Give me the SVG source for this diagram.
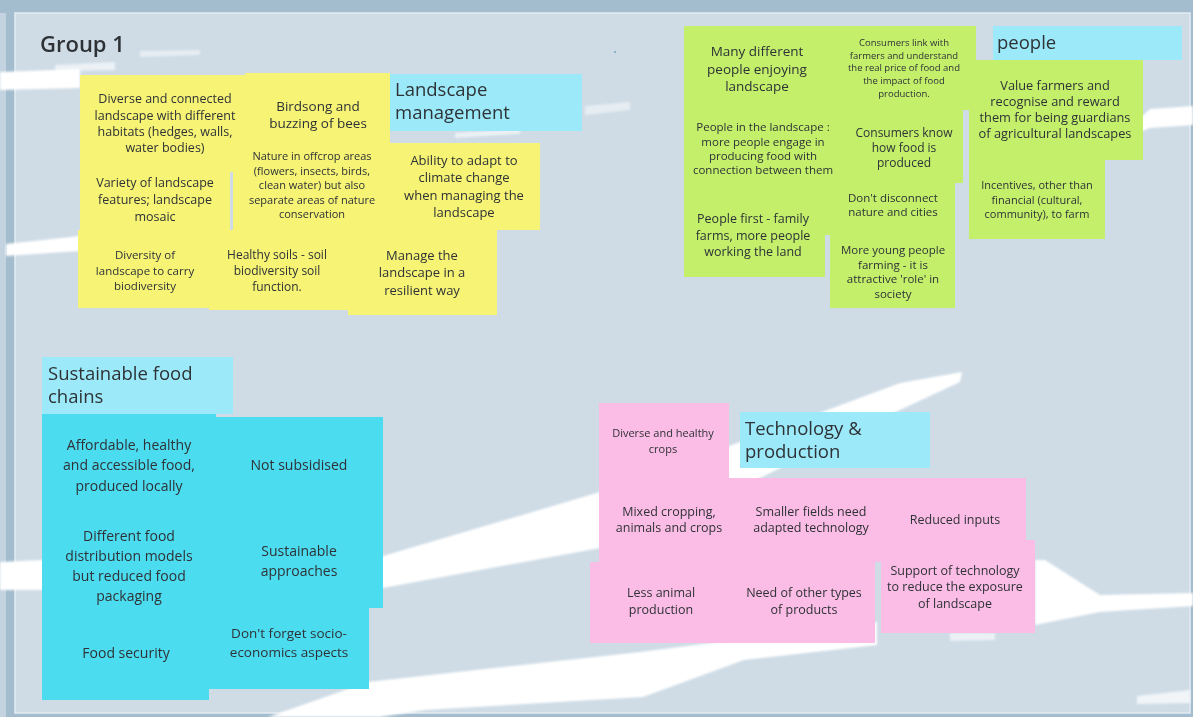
<svg xmlns="http://www.w3.org/2000/svg" width="1193" height="717" viewBox="0 0 1193 717">
<style>
.y{fill:#f6f375}.g{fill:#c3ef6b}.lab{fill:#9ceaf9}.b{fill:#4cdcf0}.p{fill:#fbbde6}
text{font-family:"Open Sans","Liberation Sans",sans-serif;fill:#2e3236}
.t{text-anchor:middle}
.l{font-size:18.5px}
.s{fill:#ffffff}
</style>
<defs>
<filter id="soft" x="-5%" y="-20%" width="110%" height="140%"><feGaussianBlur stdDeviation="1.2"/></filter>
</defs>
<rect x="0" y="0" width="1193" height="717" fill="#a4bdce"/>
<rect x="0" y="13" width="6" height="704" fill="#c3d4e0"/>
<rect x="15" y="13" width="1175" height="700" fill="#cfdce6" stroke="#e4ecf2" stroke-width="1.5"/>
<circle cx="615" cy="52" r="1" fill="#6fa8b8"/>
<g id="streaks" filter="url(#soft)">
<polygon class="s" points="0,72 80,69 80,88 0,90"/>
<polygon class="s" opacity="0.6" points="55,65 115,62 115,70 55,71"/>
<polygon class="s" opacity="0.5" points="140,51 200,50 200,55 140,57"/>
<polygon class="s" points="6,244 80,236 80,251 6,256"/>
<polygon class="s" points="1140,118 1150,109 1193,106 1193,125 1150,128 1140,132"/>
<polygon class="s" opacity="0.6" points="455,133 520,129 520,134 455,138"/>
<polygon class="s" opacity="0.5" points="585,106 630,102 630,110 585,115"/>
<polygon class="s" points="0,562 42,560 383,556 600,492 760,435 900,383 962,372 960,382 900,410 760,478 600,548 383,588 42,590 0,590"/>
<polygon class="s" points="268,717 368,682 640,652 877,622 877,645 744,660 643,697 425,710 380,717"/>
<polygon class="s" points="1035,560 1045,560 1100,595 1193,593 1193,606 1100,612 1035,625"/>
<polygon class="s" opacity="0.7" points="1137,696 1190,690 1190,703 1137,704"/>
<polygon class="s" opacity="0.6" points="950,633 995,633 995,640 950,641"/>
</g>
<text x="40" y="52" font-size="22" font-weight="600" fill="#3b3f45">Group 1</text>

<g id="y1"><rect class="y" x="80" y="75" width="165" height="97"/><text class="t" x="165" font-size="12.5"><tspan x="165" y="103">Diverse and connected</tspan><tspan x="165" y="120">landscape with different</tspan><tspan x="165" y="136">habitats (hedges, walls,</tspan><tspan x="165" y="152">water bodies)</tspan></text></g>
<g id="y2"><rect class="y" x="245" y="73" width="145" height="70"/><text class="t" font-size="13.5"><tspan x="318" y="111">Birdsong and</tspan><tspan x="318" y="128">buzzing of bees</tspan></text></g>
<g id="lab-landscape"><rect class="lab" x="390" y="74" width="192" height="57"/><text class="l"><tspan x="395" y="96">Landscape</tspan><tspan x="395" y="119">management</tspan></text></g>
<g id="y5"><rect class="y" x="80" y="172" width="150" height="58"/><text class="t" font-size="12.5"><tspan x="155" y="187">Variety of landscape</tspan><tspan x="155" y="204">features; landscape</tspan><tspan x="155" y="221">mosaic</tspan></text></g>
<g id="y4"><rect class="y" x="233" y="143" width="157" height="87"/><text class="t" font-size="11"><tspan x="312" y="160">Nature in offcrop areas</tspan><tspan x="312" y="175">(flowers, insects, birds,</tspan><tspan x="312" y="189">clean water) but also</tspan><tspan x="312" y="204">separate areas of nature</tspan><tspan x="312" y="218">conservation</tspan></text></g>
<g id="y6"><rect class="y" x="390" y="143" width="150" height="87"/><text class="t" font-size="13"><tspan x="464" y="165">Ability to adapt to</tspan><tspan x="464" y="182">climate change</tspan><tspan x="464" y="200">when managing the</tspan><tspan x="464" y="217">landscape</tspan></text></g>
<g id="y7"><rect class="y" x="78" y="230" width="131" height="78"/><text class="t" font-size="11.5"><tspan x="145" y="259">Diversity of</tspan><tspan x="145" y="275">landscape to carry</tspan><tspan x="145" y="290">biodiversity</tspan></text></g>
<g id="y8"><rect class="y" x="209" y="230" width="139" height="80"/><text class="t" font-size="12"><tspan x="277" y="259">Healthy soils - soil</tspan><tspan x="277" y="275">biodiversity soil</tspan><tspan x="277" y="291">function.</tspan></text></g>
<g id="y9"><rect class="y" x="348" y="230" width="149" height="85"/><text class="t" font-size="13"><tspan x="422" y="260">Manage the</tspan><tspan x="422" y="277">landscape in a</tspan><tspan x="422" y="295">resilient way</tspan></text></g>

<g id="g1"><rect class="g" x="684" y="26" width="150" height="84"/><text class="t" font-size="13.5"><tspan x="757" y="56">Many different</tspan><tspan x="757" y="74">people enjoying</tspan><tspan x="757" y="91">landscape</tspan></text></g>
<g id="g2"><rect class="g" x="684" y="110" width="150" height="77"/><text class="t" font-size="11.5"><tspan x="763" y="131">People in the landscape :</tspan><tspan x="763" y="146">more people engage in</tspan><tspan x="763" y="160">producing food with</tspan><tspan x="763" y="174">connection between them</tspan></text></g>
<g id="g3"><rect class="g" x="684" y="187" width="141" height="90"/><text class="t" font-size="12.5"><tspan x="753" y="223">People first - family</tspan><tspan x="753" y="240">farms, more people</tspan><tspan x="753" y="256">working the land</tspan></text></g>
<g id="g4"><rect class="g" x="834" y="26" width="142" height="84"/><text class="t" font-size="9.5"><tspan x="904" y="46">Consumers link with</tspan><tspan x="904" y="59">farmers and understand</tspan><tspan x="904" y="71">the real price of food and</tspan><tspan x="904" y="84">the impact of food</tspan><tspan x="904" y="97">production.</tspan></text></g>
<g id="g5"><rect class="g" x="834" y="110" width="129" height="73"/><text class="t" font-size="12"><tspan x="904" y="137">Consumers know</tspan><tspan x="904" y="152">how food is</tspan><tspan x="904" y="167">produced</tspan></text></g>
<g id="g6"><rect class="g" x="825" y="183" width="130" height="52"/><text class="t" font-size="11.5"><tspan x="893" y="202">Don't disconnect</tspan><tspan x="893" y="216">nature and cities</tspan></text></g>
<g id="g7"><rect class="g" x="830" y="235" width="125" height="73"/><text class="t" font-size="11.5"><tspan x="893" y="254">More young people</tspan><tspan x="893" y="269">farming - it is</tspan><tspan x="893" y="283">attractive 'role' in</tspan><tspan x="893" y="298">society</tspan></text></g>
<g id="lab-people"><rect class="lab" x="993" y="26" width="189" height="34"/><text class="l" x="997" y="49">people</text></g>
<g id="g8"><rect class="g" x="969" y="60" width="174" height="100"/><text class="t" font-size="12.8"><tspan x="1055" y="90">Value farmers and</tspan><tspan x="1055" y="106">recognise and reward</tspan><tspan x="1055" y="122">them for being guardians</tspan><tspan x="1055" y="138">of agricultural  landscapes</tspan></text></g>
<g id="g9"><rect class="g" x="969" y="160" width="136" height="79"/><text class="t" font-size="11"><tspan x="1037" y="189">Incentives, other than</tspan><tspan x="1037" y="204">financial (cultural,</tspan><tspan x="1037" y="218">community), to farm</tspan></text></g>

<g id="lab-food"><rect class="lab" x="42" y="357" width="191" height="57"/><text class="l"><tspan x="48" y="380">Sustainable food</tspan><tspan x="48" y="403">chains</tspan></text></g>
<g id="b1"><rect class="b" x="42" y="414" width="174" height="101"/><text class="t" font-size="14"><tspan x="129" y="450">Affordable, healthy</tspan><tspan x="129" y="470">and accessible food,</tspan><tspan x="129" y="491">produced locally</tspan></text></g>
<g id="b2"><rect class="b" x="216" y="417" width="167" height="103"/><text class="t" font-size="14" x="299" y="470">Not subsidised</text></g>
<g id="b3"><rect class="b" x="42" y="515" width="174" height="98"/><text class="t" font-size="14"><tspan x="129" y="541">Different food</tspan><tspan x="129" y="561">distribution models</tspan><tspan x="129" y="581">but reduced food</tspan><tspan x="129" y="601">packaging</tspan></text></g>
<g id="b4"><rect class="b" x="216" y="520" width="167" height="88"/><text class="t" font-size="14"><tspan x="299" y="556">Sustainable</tspan><tspan x="299" y="576">approaches</tspan></text></g>
<g id="b5"><rect class="b" x="42" y="613" width="167" height="87"/><text class="t" font-size="14" x="126" y="658">Food security</text></g>
<g id="b6"><rect class="b" x="209" y="608" width="160" height="81"/><text class="t" font-size="13.5"><tspan x="289" y="638">Don't forget socio-</tspan><tspan x="289" y="657">economics aspects</tspan></text></g>

<g id="p1"><rect class="p" x="599" y="403" width="130" height="75"/><text class="t" font-size="11"><tspan x="663" y="437">Diverse and healthy</tspan><tspan x="663" y="453">crops</tspan></text></g>
<g id="lab-tech"><rect class="lab" x="740" y="412" width="190" height="56"/><text class="l"><tspan x="745" y="435">Technology &amp;</tspan><tspan x="745" y="458">production</tspan></text></g>
<g id="p2"><rect class="p" x="599" y="478" width="139" height="84"/><text class="t" font-size="12.5"><tspan x="669" y="516">Mixed cropping,</tspan><tspan x="669" y="532">animals and crops</tspan></text></g>
<g id="p3"><rect class="p" x="738" y="478" width="151" height="84"/><text class="t" font-size="12.5"><tspan x="811" y="516">Smaller fields need</tspan><tspan x="811" y="532">adapted technology</tspan></text></g>
<g id="p4"><rect class="p" x="889" y="478" width="137" height="62"/><text class="t" font-size="12.5" x="955" y="524">Reduced inputs</text></g>
<g id="p5"><rect class="p" x="590" y="562" width="150" height="81"/><text class="t" font-size="12.5"><tspan x="661" y="597">Less animal</tspan><tspan x="661" y="614">production</tspan></text></g>
<g id="p6"><rect class="p" x="732" y="562" width="143" height="81"/><text class="t" font-size="12.5"><tspan x="804" y="597">Need of other types</tspan><tspan x="804" y="614">of products</tspan></text></g>
<g id="p7"><rect class="p" x="881" y="540" width="154" height="93"/><text class="t" font-size="12.5"><tspan x="955" y="575">Support of technology</tspan><tspan x="955" y="591">to reduce the exposure</tspan><tspan x="955" y="608">of landscape</tspan></text></g>
<g id="connectors"/>
</svg>
